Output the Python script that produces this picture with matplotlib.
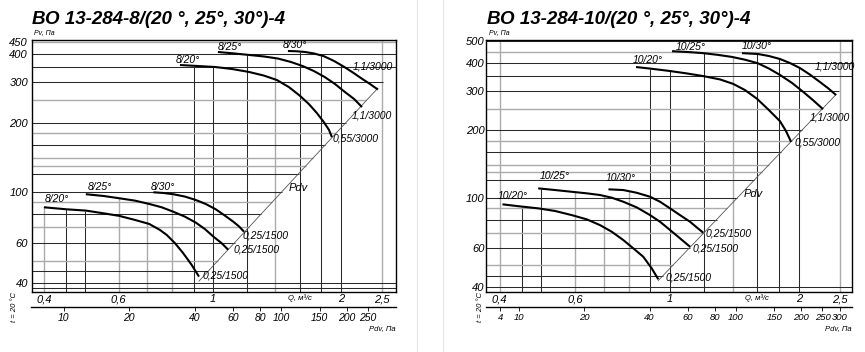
"""
Fan performance charts, VO 13-284 size 8 and size 10.
Log-log Pv(Q) curves with the Pdv scale underneath.
"""

import numpy as np
import matplotlib
matplotlib.use("Agg")
import matplotlib.pyplot as plt
from matplotlib.lines import Line2D
from matplotlib.ticker import NullLocator

plt.rcParams["font.family"] = ["Liberation Sans", "DejaVu Sans"]

# grid values (same for both charts)
q_grid = [0.4, 0.45, 0.5, 0.6, 0.7, 0.8, 0.9, 1.0, 1.2, 1.4, 1.6, 1.8, 2.0, 2.5]
q_grid_light = [1, 0, 0, 1, 1, 1, 0, 0, 0, 1, 0, 0, 0, 1]
p_grid = [38, 40, 45, 50, 60, 70, 80, 90, 100, 120, 130, 140, 160, 180,
          200, 250, 300, 350, 400, 450, 500]
p_grid_light = [0, 0, 0, 1, 0, 1, 0, 1, 0, 0, 1, 1, 0, 1,
                0, 1, 0, 0, 0, 1, 0]

q_ticks = [0.4, 0.6, 1, 2, 2.5]
q_labels = ["0,4", "0,6", "1", "2", "2,5"]

# ---- size 8 ----
l_title = "ВО 13-284-8/(20 °, 25°, 30°)-4"
l_names = ["8/20°", "8/25°", "8/30°", "8/20°", "8/25°", "8/30°"]
l_ends = ["0,55/3000", "1,1/3000", "1,1/3000", "0,25/1500", "0,25/1500", "0,25/1500"]
l20_hi_q = [0.836, 0.932, 1.011, 1.108, 1.215, 1.318, 1.414, 1.509, 1.602, 1.682,
            1.757, 1.824, 1.875, 1.905]
l20_hi_p = [357, 353, 350, 343, 333, 321, 307, 286, 262, 241, 220, 201, 186, 173]
l25_hi_q = [1.027, 1.121, 1.215, 1.318, 1.422, 1.526, 1.628, 1.728, 1.834, 1.937,
            2.045, 2.147, 2.242]
l25_hi_p = [407, 401, 395, 389, 381, 368, 353, 336, 316, 295, 272, 254, 234]
l30_hi_q = [1.501, 1.568, 1.646, 1.728, 1.824, 1.926, 2.033, 2.135, 2.242, 2.342, 2.444]
l30_hi_p = [411, 410, 407, 401, 390, 372, 351, 331, 311, 295, 279]
l20_lo_q = [0.40, 0.451, 0.502, 0.552, 0.602, 0.655, 0.708, 0.750, 0.778, 0.814,
            0.851, 0.891, 0.927]
l20_lo_p = [85.5, 83.8, 82.7, 80.5, 78.4, 75.3, 72.3, 68.1, 64.8, 59.6, 53.9, 47.9, 42.6]
l25_lo_q = [0.502, 0.552, 0.602, 0.655, 0.708, 0.757, 0.806, 0.859, 0.911, 0.958,
            1.002, 1.048, 1.086]
l25_lo_p = [97.5, 95.8, 93.6, 91.4, 88.4, 85.5, 81.8, 77.8, 73.3, 68.6, 63.7, 59.6, 55.8]
l30_lo_q = [0.724, 0.764, 0.806, 0.859, 0.911, 0.961, 1.015, 1.067, 1.116, 1.153, 1.183]
l30_lo_p = [99.4, 98.7, 97.5, 95.2, 92.0, 88.4, 83.8, 78.6, 74.0, 70.4, 66.9]
l_k = 47.4
l_p_ticks = [40, 60, 100, 200, 300, 400, 450]
l_pdv_ticks = [10, 20, 40, 60, 80, 100, 150, 200, 250]
l_pdv_labels = ["10", "20", "40", "60", "80", "100", "150", "200", "250"]

# ---- size 10 ----
r_title = "ВО 13-284-10/(20 °, 25°, 30°)-4"
r_names = ["10/20°", "10/25°", "10/30°", "10/20°", "10/25°", "10/30°"]
r_ends = l_ends
r20_hi_q = [0.833, 0.908, 0.995, 1.090, 1.194, 1.309, 1.404, 1.497, 1.597, 1.694,
            1.807, 1.866, 1.918]
r20_hi_p = [384, 377, 369, 360, 350, 338, 323, 303, 277, 249, 220, 199, 178]
r25_hi_q = [1.011, 1.102, 1.194, 1.295, 1.396, 1.497, 1.605, 1.703, 1.807, 1.928,
            2.045, 2.159, 2.278]
r25_hi_p = [452, 448, 443, 435, 426, 414, 399, 378, 354, 326, 298, 273, 249]
r30_hi_q = [1.473, 1.605, 1.703, 1.807, 1.907, 2.012, 2.124, 2.241, 2.340, 2.443]
r30_hi_p = [443, 439, 430, 417, 400, 380, 355, 329, 309, 288]
r20_lo_q = [0.406, 0.438, 0.492, 0.539, 0.589, 0.639, 0.686, 0.731, 0.778, 0.821,
            0.866, 0.906, 0.939]
r20_lo_p = [93.6, 92.0, 89.8, 87.4, 83.8, 80.2, 75.6, 70.6, 64.8, 59.5, 54.6, 48.5, 43.3]
r25_lo_q = [0.492, 0.539, 0.589, 0.639, 0.686, 0.731, 0.778, 0.836, 0.898, 0.948,
            1.0, 1.055, 1.114]
r25_lo_p = [110.3, 108.4, 106.5, 104.8, 103.0, 100.2, 96.1, 90.7, 83.8, 78.2, 71.9,
            66.0, 60.5]
r30_lo_q = [0.718, 0.778, 0.836, 0.898, 0.948, 1.0, 1.055, 1.114, 1.154, 1.196]
r30_lo_p = [109.2, 108.4, 105.4, 101.2, 96.1, 89.8, 83.8, 78.2, 73.9, 69.9]
r_k = 48.5
r_p_ticks = [40, 60, 100, 200, 300, 400, 500]
r_pdv_ticks = [8.2, 10, 20, 40, 60, 80, 100, 150, 200, 250, 300]
r_pdv_labels = ["4", "10", "20", "40", "60", "80", "100", "150", "200", "250", "300"]

W, H = 865, 352
DARK, LIGHT = "#2a2a2a", "#ababab"
PX = 0.72  # points per pixel at dpi 100


def fx(px):
    return px / W


def fy(py):
    return 1 - py / H


def panel(fig, x0, x1, qlim, plim, curves, names, ends, k, p_ticks, pdv_lim,
          pdv_ticks, pdv_labels, title, ypad, t_x, name_off, end_off, pdv_size):
    ax = fig.add_axes([fx(x0), fy(292), (x1 - x0) / W, (292 - 40) / H])
    ax.set_xscale("log")
    ax.set_yscale("log")
    ax.set_xlim(*qlim)
    ax.set_ylim(*plim)
    ax.xaxis.set_minor_locator(NullLocator())
    ax.yaxis.set_minor_locator(NullLocator())
    ax.set_xticks(q_ticks)
    ax.set_xticklabels(q_labels)
    ax.set_yticks(p_ticks)
    ax.set_yticklabels([str(p) for p in p_ticks])
    ax.tick_params(axis="x", length=0, labelsize=8, pad=1.5)
    ax.tick_params(axis="y", length=0, labelsize=8, pad=ypad)
    for lbl in ax.get_xticklabels() + ax.get_yticklabels():
        lbl.set_fontstyle("italic")
    for s in ax.spines.values():
        s.set_linewidth(1.0)

    # vertical grid: from the bottom up to the highest curve at that Q
    for q, light in zip(q_grid, q_grid_light):
        tops = [np.exp(np.interp(np.log(q), np.log(cq), np.log(cp)))
                for cq, cp in curves if cq[0] - 1e-9 <= q <= cq[-1]]
        top = max(tops) if tops else plim[1]
        ax.vlines(q, plim[0], top, colors=LIGHT if light else DARK,
                  lw=1.0 if light else 0.75, zorder=1)

    # horizontal grid: from the left edge to the Pdv line
    p_start = min(cp[-1] for cq, cp in curves)
    for p, light in zip(p_grid, p_grid_light):
        if p > plim[1]:
            continue
        q_end = np.sqrt(p / k) if p >= p_start else qlim[1]
        ax.hlines(p, qlim[0], min(q_end, qlim[1]), colors=LIGHT if light else DARK,
                  lw=1.0 if light else 0.75, zorder=1)

    # Pdv line through the curve ends
    q_ends = [cq[-1] for cq, cp in curves]
    qq = np.geomspace(min(q_ends), max(q_ends), 60)
    ax.plot(qq, k * qq ** 2, color="#555555", lw=0.6, zorder=2)
    p_lbl = 104
    ax.annotate("Pdv", (np.sqrt(p_lbl / k), p_lbl), xytext=(3 * PX, 0),
                textcoords="offset points", ha="left", va="center",
                fontsize=8, fontstyle="italic")

    for i, (cq, cp) in enumerate(curves):
        ax.plot(cq, cp, color="black", lw=1.5, zorder=3, solid_capstyle="butt",
                solid_joinstyle="round")
        dx, dy = name_off[i]
        ax.annotate(names[i], (cq[0], cp[0]), xytext=(dx * PX, dy * PX),
                    textcoords="offset points", ha="left", va="center",
                    fontsize=7.5, fontstyle="italic")
        dx, dy = end_off[i]
        ax.annotate(ends[i], (cq[-1], cp[-1]), xytext=(dx * PX, dy * PX),
                    textcoords="offset points", ha="left", va="center",
                    fontsize=7.5, fontstyle="italic")

    ax.annotate("Pv, Па", (0, 1), xycoords="axes fraction", xytext=(3 * PX, 7 * PX),
                textcoords="offset points", ha="left", va="center",
                fontsize=5, fontstyle="italic")
    ax.annotate("Q, м³/с", (1.5, plim[0]), xytext=(0, -6 * PX),
                textcoords="offset points", ha="left", va="center",
                fontsize=5.5, fontstyle="italic")

    # Pdv scale strip
    pax = fig.add_axes([fx(x0), fy(307), (x1 - x0) / W, 0.0005])
    pax.set_xscale("log")
    pax.set_xlim(*pdv_lim)
    pax.xaxis.set_minor_locator(NullLocator())
    pax.set_xticks(pdv_ticks)
    pax.set_xticklabels(pdv_labels)
    pax.set_yticks([])
    pax.patch.set_visible(False)
    for s in ("left", "right", "top"):
        pax.spines[s].set_visible(False)
    pax.spines["bottom"].set_linewidth(1.0)
    pax.tick_params(axis="x", direction="out", length=3, width=0.6,
                    labelsize=pdv_size, pad=1)
    for lbl in pax.get_xticklabels():
        lbl.set_fontstyle("italic")
    pax.annotate("Pdv, Па", (1, 0), xycoords="axes fraction", xytext=(0, -22 * PX),
                 textcoords="offset points", ha="right", va="center",
                 fontsize=5.5, fontstyle="italic")

    fig.text(fx(x0 + 1), fy(20), title, ha="left", va="center", fontsize=13.5,
             fontweight="bold", fontstyle="italic")
    fig.text(fx(t_x), fy(307), "t = 20 °C", rotation=90, ha="center", va="center",
             fontsize=5.5, fontstyle="italic")
    return ax


fig = plt.figure(figsize=(W / 100, H / 100), dpi=100)

l_curves = [(l20_hi_q, l20_hi_p), (l25_hi_q, l25_hi_p), (l30_hi_q, l30_hi_p),
            (l20_lo_q, l20_lo_p), (l25_lo_q, l25_lo_p), (l30_lo_q, l30_lo_p)]
r_curves = [(r20_hi_q, r20_hi_p), (r25_hi_q, r25_hi_p), (r30_hi_q, r30_hi_p),
            (r20_lo_q, r20_lo_p), (r25_lo_q, r25_lo_p), (r30_lo_q, r30_lo_p)]

panel(fig, 31.5, 396, (0.374, 2.696), (36.5, 459), l_curves, l_names, l_ends, l_k,
      l_p_ticks, (7.12, 336), l_pdv_ticks, l_pdv_labels, l_title, 2.5, 15,
      name_off=[(-4, 5), (0, 5), (-5, 6), (1, 8), (2, 7), (-3, 5)],
      end_off=[(1, -1), (-10, -8), (-25, 23), (4, 1), (5, 0), (-1, -4)],
      pdv_size=7.5)

panel(fig, 486, 852, (0.3716, 2.662), (38.0, 507), r_curves, r_names, r_ends, r_k,
      r_p_ticks, (7.05, 342), r_pdv_ticks, r_pdv_labels, r_title, 1.0, 481,
      name_off=[(-3, 7), (4, 4), (0, 7), (-5, 8), (2, 12), (-3, 11)],
      end_off=[(3, -1), (-13, -8), (-21, 29), (7, 2), (2, -2), (2, -1)],
      pdv_size=6.8)

# light panel borders
for xp in (417, 443):
    fig.add_artist(Line2D([fx(xp), fx(xp)], [0, 1], color="#e6e6e6", lw=0.8))

fig.savefig("out.png", dpi=100, facecolor="white")
plt.close(fig)
